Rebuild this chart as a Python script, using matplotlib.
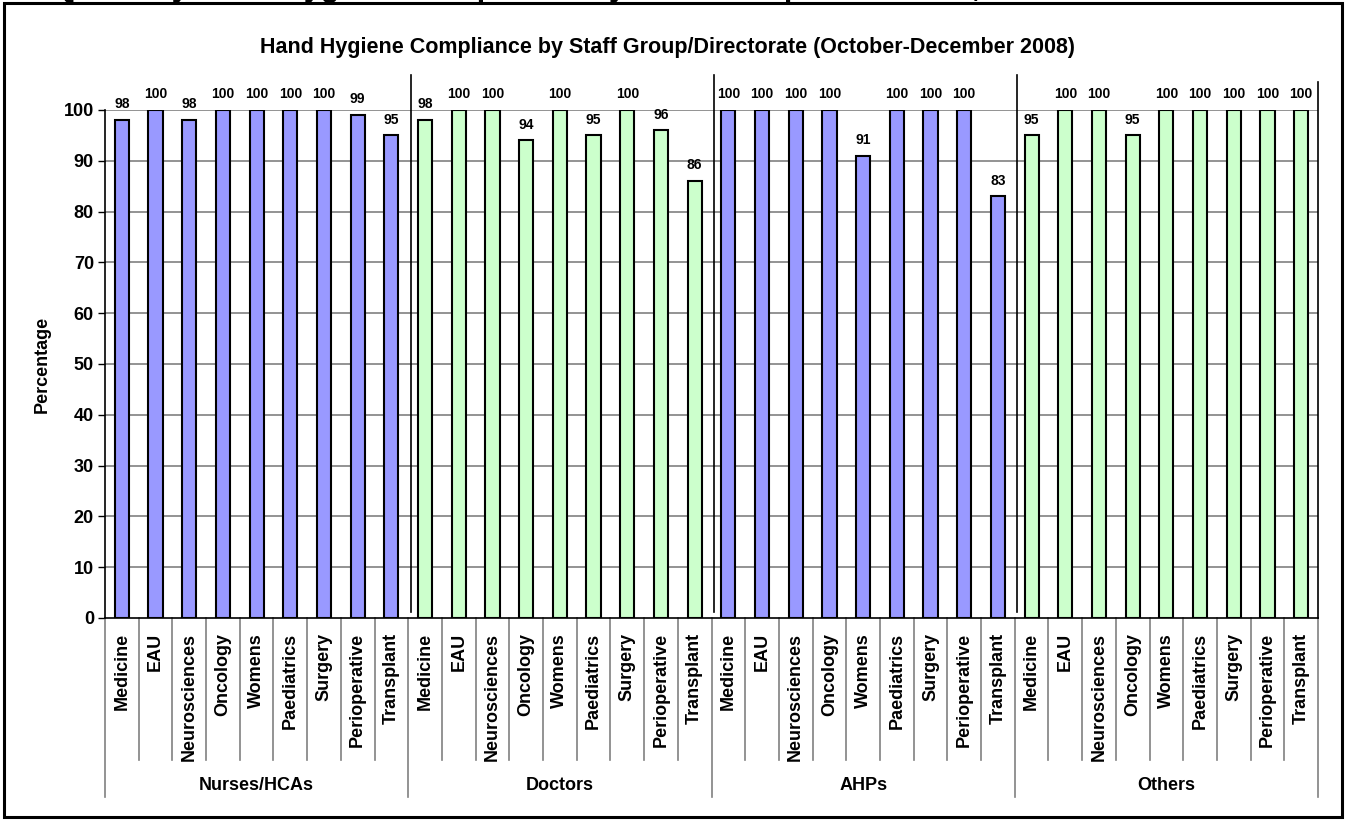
import matplotlib
matplotlib.use("Agg")
import matplotlib.pyplot as plt
from matplotlib.patches import Rectangle
import matplotlib.transforms as mtransforms

plt.rcParams['font.family'] = ['Liberation Sans', 'DejaVu Sans']
plt.rcParams['font.weight'] = 'bold'

directorates = ["Medicine", "EAU", "Neurosciences", "Oncology", "Womens",
                "Paediatrics", "Surgery", "Perioperative", "Transplant"]
groups = ["Nurses/HCAs", "Doctors", "AHPs", "Others"]
nurses = [98, 100, 98, 100, 100, 100, 100, 99, 95]
doctors = [98, 100, 100, 94, 100, 95, 100, 96, 86]
ahps = [100, 100, 100, 100, 91, 100, 100, 100, 83]
others = [95, 100, 100, 95, 100, 100, 100, 100, 100]
group_values = [nurses, doctors, ahps, others]
group_colors = ["#9999FF", "#CCFFCC", "#9999FF", "#CCFFCC"]
yticks = list(range(0, 101, 10))
title = "Hand Hygiene Compliance by Staff Group/Directorate (October-December 2008)"
heading = "Quarterly Hand Hygiene Compliance by Staff Group/Directorate, October-December 2008"
ylabel = "Percentage"

W, H = 1346, 821
fig = plt.figure(figsize=(W / 100, H / 100), dpi=100)

# axes in pixel geometry
left, right, top, bottom = 105, 1318, 110, 618
ax = fig.add_axes([left / W, 1 - bottom / H, (right - left) / W, (bottom - top) / H])
axh = bottom - top

values, colors, labels = [], [], []
for g, vals in enumerate(group_values):
    values += vals
    colors += [group_colors[g]] * len(vals)
    labels += directorates
x = list(range(len(values)))

ax.set_xlim(-0.5, len(values) - 0.5)
ax.set_ylim(0, 100)
ax.set_yticks(yticks)
ax.set_yticklabels([str(t) for t in yticks], fontsize=13, fontweight='bold')
ax.tick_params(axis='y', length=5, width=1, pad=3, direction='out')
ax.set_xticks([])
for s in ['top', 'right']:
    ax.spines[s].set_visible(False)
ax.spines['left'].set_linewidth(1.2)
ax.spines['bottom'].set_linewidth(1.2)
ax.set_axisbelow(True)
for t in yticks[1:]:
    ax.axhline(t, color='#808080', lw=1.2, zorder=0)

bars = ax.bar(x, values, width=0.42, color=colors, edgecolor='black', linewidth=1.5, zorder=3)
for xi, v in zip(x, values):
    ax.annotate(str(v), (xi, v), xytext=(0, 8.5), textcoords='offset points',
                ha='center', va='baseline', fontsize=10, fontweight='bold', clip_on=False)

trans = mtransforms.blended_transform_factory(ax.transData, ax.transAxes)
n = len(values)
per = len(directorates)
for k in range(n + 1):
    xb = k - 0.5
    if k % per == 0:
        y0 = -179 / axh
    else:
        y0 = -142 / axh
    ax.plot([xb, xb], [0, y0], transform=trans, color='#808080', lw=1.2, clip_on=False)
for i, lab in enumerate(labels):
    ax.text(i, -15 / axh, lab, transform=trans, rotation=90, ha='center', va='top',
            fontsize=13, fontweight='bold')
for g, name in enumerate(groups):
    ax.text(g * per + (per - 1) / 2, -167 / axh, name, transform=trans, ha='center',
            va='center', fontsize=13, fontweight='bold')

# separators inside the plot
for g in range(1, len(groups)):
    xb = g * per - 0.5 + 0.08
    ax.plot([xb, xb], [6 / axh, (bottom - 75) / axh], transform=trans, color='black',
            lw=1.2, clip_on=False)
ax.plot([n - 0.5, n - 0.5], [0, (bottom - 82) / axh], transform=trans, color='black',
        lw=1.2, clip_on=False)

ax.set_ylabel(ylabel, fontsize=13, fontweight='bold', labelpad=9)
fig.text(668 / W, 1 - 47 / H, title, ha='center', va='center', fontsize=15.5, fontweight='bold')

# cut-off heading above the chart frame (only descenders visible)
fig.text(53 / W, 1 + 4.5 / H, heading, ha='left', va='baseline', fontsize=22, fontweight='bold')

fig.patches.append(Rectangle((4 / W, 1 - 817 / H), 1338 / W, 814 / H, transform=fig.transFigure,
                             fill=False, edgecolor='black', lw=2.2))

fig.savefig("out.png", dpi=100, facecolor='white')
